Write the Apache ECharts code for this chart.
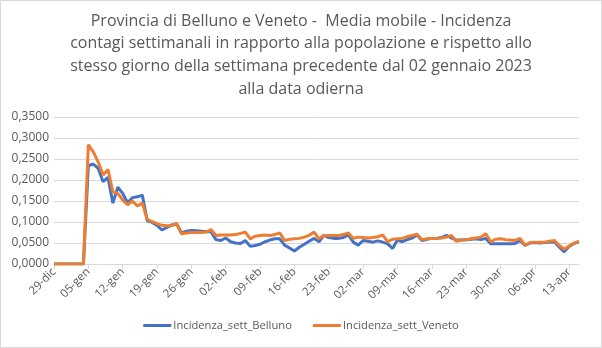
<!DOCTYPE html>
<html><head><meta charset="utf-8">
<script src="https://cdn.jsdelivr.net/npm/echarts@6/dist/echarts.min.js"></script>
<style>html,body{margin:0;padding:0;background:#fff}#c{width:602px;height:348px}</style>
</head><body><div id="c"></div>
<script>
// Category dates: 29-dic-2022 .. 15-apr-2023 (daily)
const startDate = [2022, 11, 29];
const dayCount = 108;
const monthNames = ['gen','feb','mar','apr','mag','giu','lug','ago','set','ott','nov','dic'];
const yTicks = [0, 0.05, 0.10, 0.15, 0.20, 0.25, 0.30, 0.35];

const belluno = [
 0,0,0,0,0,0,0,
 0.234,0.238,0.228,0.196,0.206,0.145,0.183,0.168,0.146,0.158,0.160,0.164,
 0.103,0.099,0.092,0.081,0.087,0.093,0.095,
 0.074,0.078,0.080,0.079,0.078,0.077,0.077,
 0.058,0.056,0.062,0.053,0.050,0.049,0.056,
 0.042,0.044,0.047,0.053,0.057,0.060,0.060,
 0.045,0.038,0.031,0.040,0.047,0.054,0.061,
 0.053,0.068,0.063,0.061,0.061,0.063,0.069,
 0.052,0.045,0.056,0.054,0.052,0.055,0.052,
 0.048,0.037,0.057,0.053,0.058,0.062,0.069,
 0.056,0.059,0.061,0.061,0.063,0.068,0.062,
 0.057,0.057,0.058,0.059,0.060,0.058,0.061,
 0.048,0.048,0.048,0.048,0.048,0.049,0.056,
 0.044,0.050,0.051,0.050,0.051,0.052,0.053,
 0.040,0.029,0.042,0.049,0.053
];
const veneto = [
 0,0,0,0,0,0,0,
 0.284,0.267,0.243,0.212,0.225,0.172,0.168,0.152,0.141,0.150,0.138,0.145,
 0.106,0.101,0.096,0.092,0.091,0.091,0.097,
 0.072,0.074,0.075,0.075,0.075,0.076,0.082,
 0.068,0.069,0.069,0.069,0.070,0.073,0.076,
 0.060,0.066,0.068,0.069,0.068,0.070,0.074,
 0.056,0.059,0.060,0.061,0.064,0.068,0.076,
 0.060,0.068,0.068,0.068,0.068,0.070,0.074,
 0.061,0.064,0.063,0.062,0.063,0.065,0.069,
 0.053,0.059,0.060,0.061,0.065,0.068,0.071,
 0.058,0.060,0.061,0.061,0.062,0.064,0.068,
 0.054,0.057,0.058,0.060,0.062,0.064,0.072,
 0.053,0.059,0.060,0.058,0.057,0.056,0.061,
 0.045,0.051,0.052,0.052,0.052,0.054,0.056,
 0.044,0.035,0.043,0.050,0.054
];

const categories = [];
for (let i = 0; i < dayCount; i++) {
  const d = new Date(startDate[0], startDate[1], startDate[2] + i);
  categories.push(String(d.getDate()).padStart(2,'0') + '-' + monthNames[d.getMonth()]);
}

const chart = echarts.init(document.getElementById('c'), null, {renderer:'canvas'});
const FONT = 'Open Sans';
chart.setOption({
  animation: false,
  backgroundColor: '#fff',
  title: {
    text: 'Provincia di Belluno e Veneto -  Media mobile - Incidenza\ncontagi settimanali in rapporto alla popolazione e rispetto allo\nstesso giorno della settimana precedente dal 02 gennaio 2023\nalla data odierna',
    left: 'center', top: 5,
    textStyle: {fontFamily: FONT, fontSize: 16, fontWeight: 'normal', color: '#595959', lineHeight: 22.6, align: 'center'}
  },
  legend: {
    bottom: 12, left: 'center',
    icon: 'rect', itemWidth: 28, itemHeight: 3, itemGap: 21,
    textStyle: {fontFamily: FONT, fontSize: 11.2, color: '#595959', padding: [0,0,0,-3]},
    data: ['Incidenza_sett_Belluno', 'Incidenza_sett_Veneto']
  },
  grid: {left: 54, right: 23, top: 117, bottom: 84, containLabel: false},
  xAxis: {
    type: 'category', data: categories, boundaryGap: false,
    axisLine: {lineStyle: {color: '#d9d9d9', width: 1}},
    axisTick: {show: true, interval: 6, length: 5, lineStyle: {color: '#d9d9d9'}},
    axisLabel: {interval: 6, rotate: 45, fontFamily: FONT, fontSize: 11.5, color: '#595959', margin: 6},
    splitLine: {show: false}
  },
  yAxis: {
    type: 'value', min: yTicks[0], max: yTicks[yTicks.length-1], interval: 0.05,
    axisLine: {show: false}, axisTick: {show: false},
    axisLabel: {fontFamily: FONT, fontSize: 12, color: '#595959', margin: 5,
      formatter: v => v.toFixed(4).replace('.', ',')},
    splitLine: {lineStyle: {color: '#d9d9d9', width: 1}}
  },
  series: [
    {name: 'Incidenza_sett_Belluno', type: 'line', data: belluno, showSymbol: false, symbol: 'none',
     lineStyle: {color: '#4472C4', width: 3}, itemStyle: {color: '#4472C4'}},
    {name: 'Incidenza_sett_Veneto', type: 'line', data: veneto, showSymbol: false, symbol: 'none',
     lineStyle: {color: '#ED7D31', width: 3}, itemStyle: {color: '#ED7D31'}}
  ],
  graphic: [{type: 'rect', shape: {x: 0.5, y: 0.5, width: 601, height: 347}, style: {fill: 'none', stroke: '#d9d9d9', lineWidth: 1}, silent: true, z: -1}]
});
</script></body></html>
